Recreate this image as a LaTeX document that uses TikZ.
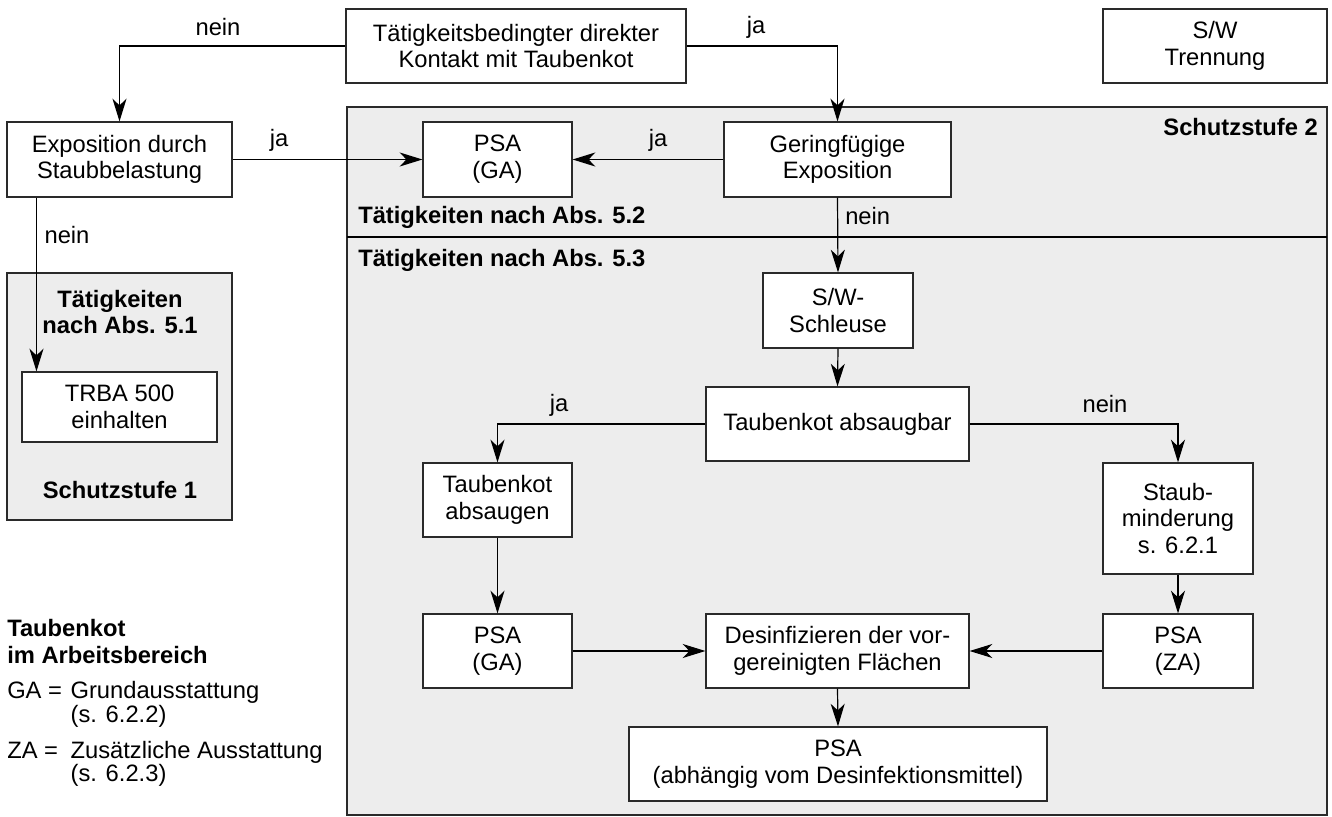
\documentclass[tikz,border=0pt]{standalone}
\usepackage{fontspec}
\setmainfont{Liberation Sans}
\usetikzlibrary{arrows.meta,calc}
\definecolor{grayfill}{HTML}{EDEDED}
\definecolor{edge}{HTML}{2A2A2A}
\tikzset{
  box/.style 2 args={draw=edge, line width=0.9pt, fill=white, rectangle, inner sep=0pt,
    minimum width=#1*0.75pt, minimum height=#2*0.75pt, align=center, font=\txtfont},
  arr/.style={draw=black, line width=0.9pt, -{Stealth[length=17pt, width=10.5pt, inset=5pt]}},
  lbl/.style={inner sep=0pt, font=\txtfont},
  blbl/.style={inner sep=0pt, font=\txtfont\bfseries, align=center},
}
\newcommand{\txtfont}{\fontsize{17.8}{20}\selectfont}
\begin{document}
\begin{tikzpicture}[x=0.75pt, y=-0.75pt]
\useasboundingbox (0,0) rectangle (1332,817);
% gray areas
\draw[draw=edge, line width=0.9pt, fill=grayfill] (7,273) rectangle (232,520);
\draw[draw=edge, line width=0.9pt, fill=grayfill] (347,107) rectangle (1327,815);
\draw[black, line width=1.6pt] (347,237) -- (1327,237);

% nodes
\node[box={340}{74}] (top) at (516,46) {Tätigkeitsbedingter direkter\\Kontakt mit Taubenkot};
\node[box={224}{74}] (sw) at (1215,46) {S/W\\Trennung};
\node[box={225}{75}] (expo) at (119.5,159.5) {Exposition durch\\Staubbelastung};
\node[box={149}{75}] (psa1) at (497.5,159.5) {PSA\\(GA)};
\node[box={227}{75}] (ger) at (837.5,159.5) {Geringfügige\\Exposition};
\node[box={195}{70}] (trba) at (119.5,407) {TRBA 500\\einhalten};
\node[box={150}{75}] (schleuse) at (838,310.5) {S/W-\\Schleuse};
\node[box={263}{74}] (absaugbar) at (837.5,424) {Taubenkot absaugbar};
\node[box={149}{74}] (absaugen) at (497.5,500) {Taubenkot\\absaugen};
\node[box={150}{111}] (staub) at (1178,518.5) {Staub-\\minderung\\s. 6.2.1};
\node[box={149}{74}] (psa2) at (497.5,651) {PSA\\(GA)};
\node[box={263}{74}] (desinf) at (837.5,651) {Desinfizieren der vor-\\gereinigten Flächen};
\node[box={150}{74}] (psa3) at (1178,651) {PSA\\(ZA)};
\node[box={418}{74}] (psa4) at (838,764) {PSA\\(abhängig vom Desinfektionsmittel)};

% connectors
\draw[arr] (top.west) -| (expo.north);
\draw[arr] (top.east) -| (ger.north);
\draw[arr] (expo.east) -- (psa1.west);
\draw[arr] (ger.west) -- (psa1.east);
\draw[arr] (ger.south) -- (schleuse.north);
\coordinate (eb) at ($(expo.south west)!0.133!(expo.south east)$);
\draw[arr] (eb) -- (eb |- trba.north);
\draw[arr] (schleuse.south) -- (absaugbar.north);
\draw[arr] (absaugbar.west) -| (absaugen.north);
\draw[arr] (absaugbar.east) -| (staub.north);
\draw[arr] (absaugen.south) -- (psa2.north);
\draw[arr] (staub.south) -- (psa3.north);
\draw[arr] (psa2.east) -- (desinf.west);
\draw[arr] (psa3.west) -- (desinf.east);
\draw[arr] (desinf.south) -- (psa4.north);

% edge labels
\node[lbl] (l1) at (218,27) {nein};
\node[lbl] (l2) at (756,27) {ja};
\node[lbl] (l3) at (279,140) {ja};
\node[lbl] (l4) at (658,140) {ja};
\node[lbl, anchor=west] (l5) at (845,216) {nein};
\node[lbl] (l6) at (67,235) {nein};
\node[lbl] (l7) at (559,405) {ja};
\node[lbl] (l8) at (1105,404) {nein};

% area labels
\node[blbl, anchor=east] (s2) at (1318,127) {Schutzstufe 2};
\node[blbl, anchor=west] (a52) at (358,217) {Tätigkeiten nach Abs. 5.2};
\node[blbl, anchor=west] (a53) at (358,260) {Tätigkeiten nach Abs. 5.3};
\node[blbl] (a51) at (120,312) {Tätigkeiten\\nach Abs. 5.1};
\node[blbl] (s1) at (120,490) {Schutzstufe 1};

% legend
\node[inner sep=0pt, anchor=base west, font=\fontsize{17.8}{20}\selectfont\bfseries, align=left] (lg1) at (7,663) {Taubenkot\\im Arbeitsbereich};
\node[inner sep=0pt, anchor=base west, font=\fontsize{17.8}{17}\selectfont] (lg2) at (7,698)
  {\begin{tabular}[t]{@{}p{47.5pt}@{}l@{}}
   GA = & Grundausstattung\\
        & (s. 6.2.2)\\[9pt]
   ZA = & Zusätzliche Ausstattung\\
        & (s. 6.2.3)
   \end{tabular}};
\end{tikzpicture}
\end{document}
